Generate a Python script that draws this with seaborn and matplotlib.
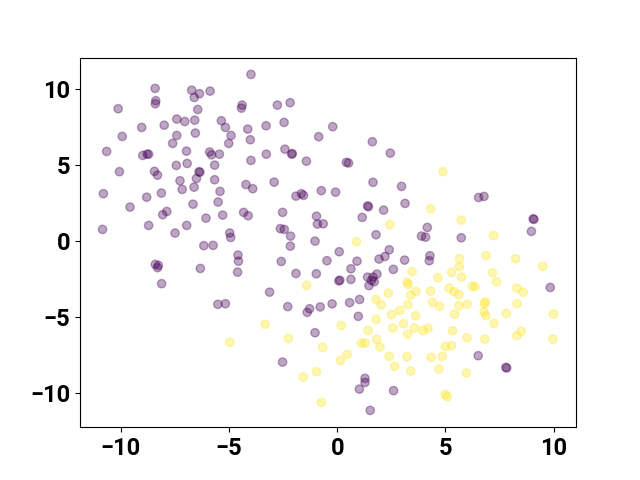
import matplotlib
matplotlib.use("Agg")
import matplotlib.pyplot as plt
import seaborn as sns
import pandas as pd
import numpy as np

# class 0 (purple)
x0 = [-8.42,-6.73,-6.37,-5.88,-6.61,-8.39,-8.41,-10.13,-6.45,-7.42,
      -7.05,-6.59,-8.00,-9.04,-6.56,-9.94,-7.42,-7.61,-10.66,-6.97,
      -8.99,-8.79,-8.72,-5.90,-5.81,-7.44,-6.94,-10.07,-8.45,-8.31,
      -6.39,-6.35,-6.51,-7.27,
      -10.81,-9.58,-8.81,-8.13,-7.17,-6.62,-7.88,-8.07,-6.67,-6.07,
      -10.85,-8.72,-7.50,-6.96,-6.17,-8.41,-8.27,-8.31,-6.33,-8.12,
      -3.99,-4.40,-4.43,-2.77,-2.18,-5.36,-5.17,-4.14,-3.29,-2.46,
      -0.21,-4.91,-4.02,-5.02,-0.86,-5.45,-3.28,-2.42,-2.11,-2.08,
      -1.43,-3.99,-5.67,-5.67,-4.22,-2.92,
      1.62,2.45,0.42,0.52,1.65,2.97,
      -3.91,-5.42,-5.51,-1.91,-1.66,-1.56,-0.74,-5.30,-4.33,-4.12,
      -2.53,-0.96,-0.92,-0.65,-2.63,-2.45,-4.97,-4.93,-2.16,-1.03,
      -5.74,-2.17,-4.59,-4.57,-0.48,-2.59,-4.61,-1.91,-0.97,-3.13,
      -5.52,-5.17,-2.29,-1.39,-1.28,-0.79,-0.24,-1.03,-2.53,
      -0.08,1.40,1.44,3.13,2.14,1.15,4.16,3.89,4.08,1.79,
      0.09,2.40,1.93,2.20,4.28,4.25,3.11,0.91,0.63,2.59,
      0.07,0.12,0.63,1.40,1.65,1.83,1.58,1.46,1.71,1.03,
      0.57,0.97,1.28,1.28,1.02,2.60,1.52,
      6.53,6.78,9.05,9.09,8.97,5.73,9.84,6.51,7.79,7.83]
y0 = [10.07,9.95,9.72,9.89,9.47,9.26,9.06,8.73,8.68,8.05,
      7.89,7.98,7.65,7.50,7.13,6.91,6.97,6.45,5.92,5.94,
      5.66,5.74,5.74,5.88,5.70,5.00,5.13,4.59,4.61,4.36,
      4.59,4.55,4.14,3.99,
      3.14,2.26,2.91,3.18,3.42,3.57,1.97,1.76,2.45,1.53,
      0.79,1.05,0.55,1.05,-0.28,-1.51,-1.58,-1.73,-1.78,-2.78,
      10.99,8.97,8.77,8.97,9.13,7.94,7.50,7.39,7.61,7.83,
      7.55,6.97,6.69,6.45,6.89,5.74,5.74,6.07,5.74,5.78,
      5.28,5.33,5.02,4.06,3.74,3.90,
      6.56,5.81,5.20,5.16,3.89,3.62,
      3.47,3.29,2.59,2.98,3.14,3.03,3.34,1.73,1.91,1.69,
      1.91,1.66,1.14,1.16,0.84,0.79,0.55,0.26,0.35,0.02,
      -0.26,-0.31,-0.90,-1.30,-1.27,-1.32,-2.02,-2.11,-2.13,-3.34,
      -4.14,-4.10,-4.29,-4.67,-4.43,-4.31,-4.11,-6.01,-7.94,
      3.24,2.34,2.28,2.50,2.06,1.58,0.92,0.35,0.28,0.44,
      -0.68,-0.55,-1.16,-0.99,-0.94,-1.27,-1.23,-1.30,-1.80,-1.84,
      -2.60,-2.55,-2.50,-2.35,-2.35,-2.15,-2.57,-2.91,-2.65,-3.82,
      -4.03,-4.93,-9.01,-9.28,-9.72,-9.82,-11.12,
      2.89,2.96,1.49,1.45,0.66,0.24,-3.03,-7.52,-8.29,-8.33]

# class 1 (yellow)
x1 = [4.88,-1.42,-3.34,-4.97,-2.26,-0.68,-1.57,-0.96,-0.74,4.31,
      2.43,0.89,3.46,5.28,4.65,3.23,3.28,5.17,3.64,4.31,
      2.36,3.39,5.39,1.79,4.40,2.03,3.26,4.73,0.18,1.79,
      2.51,2.88,3.62,1.42,2.57,3.06,3.25,3.57,3.96,4.19,
      5.33,5.42,1.82,1.12,1.28,1.97,4.99,5.28,0.46,0.15,
      2.40,3.22,4.34,4.85,2.65,3.39,4.70,4.99,5.08,5.73,
      7.22,6.88,5.65,8.24,5.64,9.50,7.17,5.74,7.36,6.24,
      6.36,5.62,8.30,8.59,6.84,6.80,6.00,5.62,8.31,6.78,
      6.87,7.81,9.99,7.24,5.99,6.82,8.30,8.50,9.96,5.96]
y1 = [4.59,-2.89,-5.46,-6.64,-6.38,-6.97,-8.93,-8.57,-10.59,2.15,
      1.10,-0.02,-1.99,-2.04,-2.39,-2.68,-2.83,-3.07,-3.29,-3.27,
      -3.40,-3.53,-3.31,-3.82,-4.01,-4.18,-4.16,-4.28,-5.53,-5.13,
      -4.82,-4.54,-4.89,-5.86,-5.70,-5.41,-6.10,-5.70,-5.86,-5.72,
      -5.88,-4.80,-6.45,-6.69,-6.69,-6.95,-6.91,-6.86,-7.43,-7.83,
      -7.57,-7.59,-7.63,-7.57,-8.22,-8.53,-8.40,-10.07,-10.22,1.40,
      0.39,-0.94,-1.14,-1.14,-1.66,-1.63,-2.06,-2.35,-2.65,-2.96,
      -2.96,-3.51,-3.07,-3.34,-3.97,-4.10,-4.14,-4.23,-4.10,-4.63,
      -4.89,-4.74,-4.78,-5.39,-6.34,-6.43,-6.20,-5.92,-6.43,-8.66]

df = pd.DataFrame({
    "x": x0 + x1,
    "y": y0 + y1,
    "label": [0] * len(x0) + [1] * len(x1),
})

plt.rcParams["font.family"] = ["Roboto", "DejaVu Sans"]
plt.rcParams["font.weight"] = "bold"

fig, ax = plt.subplots(figsize=(6.4, 4.8), dpi=100)
palette = {0: "#440154", 1: "#fde725"}
sns.scatterplot(data=df, x="x", y="y", hue="label", palette=palette,
                alpha=0.35, s=36, edgecolor="face", linewidth=1.0,
                legend=False, ax=ax)
ax.set_xlabel("")
ax.set_ylabel("")
ax.set_xticks([-10, -5, 0, 5, 10])
ax.set_yticks([-10, -5, 0, 5, 10])
for lab in ax.get_xticklabels() + ax.get_yticklabels():
    lab.set_fontsize(17)
    lab.set_fontweight("bold")
fig.savefig("out.png", dpi=100)
